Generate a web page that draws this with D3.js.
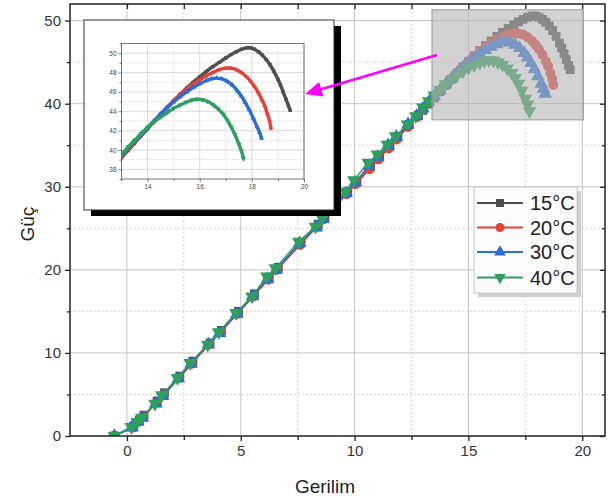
<!DOCTYPE html>
<html><head><meta charset="utf-8">
<script src="https://cdn.jsdelivr.net/npm/d3@7"></script>
<style>body{margin:0;background:#fff} svg{display:block;font-family:"Liberation Sans",Arial,sans-serif}</style>
</head><body><svg id="c" width="611" height="501"></svg>
<script>
// ---------- data ----------
const seriesNames = ["15°C", "20°C", "30°C", "40°C"];
const v15 = [-0.55, 0.3, 0.55, 0.75, 1.33, 1.65, 2.32, 2.9, 3.65, 4.15, 4.9, 5.6, 6.25, 6.65, 7.65, 8.4, 8.7, 9.7, 10.1, 10.7, 11.1, 11.55, 11.9, 12.4, 12.8,
  13.0, 13.25, 13.5, 13.75, 14.0, 14.25, 14.5, 14.75, 15.0, 15.25, 15.5, 15.75, 16.0, 16.25, 16.5, 16.75, 17.0, 17.2, 17.4, 17.6, 17.8, 17.95, 18.1, 18.25, 18.4, 18.55, 18.7, 18.85, 19.0, 19.1, 19.2, 19.3, 19.4, 19.47];
const p15 = [0, 1.2, 1.9, 2.5, 4.2, 5.2, 7.2, 9.0, 11.2, 12.7, 15.0, 17.1, 19.1, 20.3, 23.3, 25.5, 26.4, 29.4, 30.6, 32.4, 33.6, 34.9, 36.0, 37.5, 38.6,
  39.2, 39.95, 40.7, 41.45, 42.2, 42.95, 43.7, 44.4, 45.1, 45.75, 46.4, 47.0, 47.55, 48.1, 48.6, 49.05, 49.5, 49.85, 50.15, 50.4, 50.55, 50.55, 50.4, 50.15, 49.8, 49.35, 48.8, 48.1, 47.3, 46.7, 46.0, 45.3, 44.6, 44.1];
const v20 = [-0.55, 0.25, 0.5, 0.7, 1.3, 1.6, 2.3, 2.85, 3.6, 4.1, 4.85, 5.55, 6.2, 6.6, 7.6, 8.35, 8.65, 9.65, 10.05, 10.65, 11.05, 11.5, 11.85, 12.35, 12.75,
  13.0, 13.25, 13.5, 13.75, 14.0, 14.25, 14.5, 14.75, 15.0, 15.25, 15.5, 15.75, 16.0, 16.25, 16.5, 16.75, 17.0, 17.2, 17.4, 17.6, 17.8, 17.95, 18.1, 18.25, 18.4, 18.5, 18.6, 18.68, 18.73];
const p20 = [0, 1.0, 1.7, 2.3, 4.0, 4.9, 7.0, 8.7, 11.0, 12.5, 14.7, 16.8, 18.8, 20.0, 23.0, 25.2, 26.1, 29.1, 30.3, 32.1, 33.3, 34.6, 35.7, 37.2, 38.4,
  39.3, 40.05, 40.8, 41.55, 42.3, 43.0, 43.7, 44.4, 45.1, 45.7, 46.3, 46.8, 47.25, 47.65, 48.0, 48.3, 48.45, 48.45, 48.3, 48.0, 47.55, 47.1, 46.55, 45.9, 45.1, 44.5, 43.7, 43.0, 42.25];
const v30 = [-0.55, 0.22, 0.48, 0.68, 1.27, 1.57, 2.26, 2.82, 3.58, 4.07, 4.83, 5.52, 6.18, 6.56, 7.58, 8.32, 8.62, 9.63, 10.02, 10.62, 11.02, 11.47, 11.83, 12.35, 12.72,
  13.0, 13.25, 13.5, 13.75, 14.0, 14.25, 14.5, 14.75, 15.0, 15.25, 15.5, 15.75, 16.0, 16.25, 16.45, 16.65, 16.85, 17.05, 17.25, 17.45, 17.6, 17.75, 17.9, 18.05, 18.2, 18.3, 18.37];
const p30 = [0, 1.0, 1.7, 2.2, 3.9, 4.8, 6.9, 8.7, 11.0, 12.4, 14.7, 16.8, 18.9, 20.0, 23.2, 25.1, 26.1, 29.2, 30.5, 32.5, 33.6, 35.0, 36.0, 37.5, 38.5,
  39.4, 40.15, 40.9, 41.6, 42.3, 43.0, 43.7, 44.35, 44.95, 45.5, 46.0, 46.45, 46.85, 47.15, 47.35, 47.42, 47.35, 47.1, 46.7, 46.1, 45.55, 44.9, 44.15, 43.3, 42.4, 41.8, 41.2];
const v40 = [-0.55, 0.2, 0.45, 0.65, 1.23, 1.53, 2.22, 2.78, 3.55, 4.03, 4.79, 5.49, 6.15, 6.52, 7.55, 8.28, 8.58, 9.6, 9.97, 10.6, 11.0, 11.44, 11.8, 12.32, 12.69,
  13.0, 13.25, 13.5, 13.75, 14.0, 14.25, 14.5, 14.75, 15.0, 15.25, 15.5, 15.7, 15.9, 16.1, 16.3, 16.5, 16.7, 16.9, 17.05, 17.2, 17.35, 17.5, 17.6, 17.68];
const p40 = [0, 1.1, 1.7, 2.2, 3.9, 4.9, 7.0, 8.8, 11.0, 12.5, 14.8, 16.8, 19.2, 20.2, 23.4, 25.2, 26.2, 29.4, 30.8, 32.9, 33.9, 35.1, 36.1, 37.5, 38.5,
  39.55, 40.3, 41.0, 41.7, 42.35, 42.9, 43.4, 43.85, 44.3, 44.65, 44.95, 45.15, 45.25, 45.2, 45.0, 44.7, 44.25, 43.7, 43.1, 42.4, 41.6, 40.6, 39.9, 39.1];

const xMajorTicks = [0, 5, 10, 15, 20];
const xMinorTicks = [2.5, 7.5, 12.5, 17.5];
const yMajorTicks = [0, 10, 20, 30, 40, 50];
const yMinorTicks = [5, 15, 25, 35, 45];
const insetXTicks = [14, 16, 18, 20];
const insetXMinor = [13, 15, 17, 19];
const insetYTicks = [38, 40, 42, 44, 46, 48, 50];
const insetYMinor = [37, 39, 41, 43, 45, 47, 49, 51];
const zoomBox = {x0: 13.4, x1: 20.05, y0: 38.05, y1: 51.3};

const colors = ["#4f4f4f", "#e5403a", "#2a6dd8", "#2f9f5e"];
const symbols = [d3.symbolSquare, d3.symbolCircle, d3.symbolTriangle, d3.symbolTriangle];
const rotations = [0, 0, 0, 180];
const series = [[v15, p15], [v20, p20], [v30, p30], [v40, p40]].map(([v, p], i) => ({
  name: seriesNames[i], pts: v.map((d, j) => [d, p[j]]), color: colors[i], sym: symbols[i], rot: rotations[i]
}));

// ---------- main chart ----------
const svg = d3.select("#c");
const L = 70, R = 605, T = 4, B = 436;
const x = d3.scaleLinear([-2.5, 21], [L, R]);
const y = d3.scaleLinear([0, 52], [B, T]);

const defs = svg.append("defs");
defs.append("clipPath").attr("id", "mainClip").append("rect").attr("x", L).attr("y", T).attr("width", R - L).attr("height", B - T);

const grid = svg.append("g");
grid.selectAll(".vmin").data(xMinorTicks).join("line").attr("x1", d => x(d)).attr("x2", d => x(d)).attr("y1", T).attr("y2", B)
  .attr("stroke", "#d6d6d6").attr("stroke-dasharray", "2,2");
grid.selectAll(".hmin").data(yMinorTicks).join("line").attr("y1", d => y(d)).attr("y2", d => y(d)).attr("x1", L).attr("x2", R)
  .attr("stroke", "#d6d6d6").attr("stroke-dasharray", "2,2");
grid.selectAll(".vmaj").data(xMajorTicks).join("line").attr("x1", d => x(d)).attr("x2", d => x(d)).attr("y1", T).attr("y2", B)
  .attr("stroke", "#c4c4c4");
grid.selectAll(".hmaj").data(yMajorTicks.slice(1)).join("line").attr("y1", d => y(d)).attr("y2", d => y(d)).attr("x1", L).attr("x2", R)
  .attr("stroke", "#c4c4c4");

const plot = svg.append("g").attr("clip-path", "url(#mainClip)");
const line = d3.line().x(d => x(d[0])).y(d => y(d[1]));
series.forEach(s => {
  const g = plot.append("g");
  g.append("path").attr("d", line(s.pts)).attr("fill", "none").attr("stroke", s.color).attr("stroke-width", 1.5);
  g.selectAll("path.m").data(s.pts).join("path").attr("class", "m")
    .attr("d", d3.symbol(s.sym, s.sym === d3.symbolTriangle ? 80 : 78))
    .attr("transform", d => `translate(${x(d[0])},${y(d[1])}) rotate(${s.rot})`)
    .attr("fill", s.color);
});

// translucent zoom box
plot.append("rect").attr("x", x(zoomBox.x0)).attr("y", y(zoomBox.y1))
  .attr("width", x(zoomBox.x1) - x(zoomBox.x0)).attr("height", y(zoomBox.y0) - y(zoomBox.y1))
  .attr("fill", "#b3b3b3").attr("fill-opacity", 0.59).attr("stroke", "#9a9a9a").attr("stroke-width", 1);

// axes
const axG = svg.append("g");
function styleAxis(g) {
  g.select(".domain").remove();
  g.selectAll("line").attr("stroke", "#222").attr("stroke-width", 1.3);
  g.selectAll("text").attr("fill", "#333").attr("font-size", 15).attr("font-family", "Liberation Sans, Arial, sans-serif");
}
axG.append("g").attr("transform", `translate(0,${B})`).call(d3.axisBottom(x).tickValues(xMajorTicks).tickSize(5).tickPadding(4).tickFormat(d3.format("d"))).call(styleAxis);
axG.append("g").attr("transform", `translate(0,${B})`).call(d3.axisBottom(x).tickValues(xMinorTicks).tickSize(4).tickFormat("")).call(styleAxis);
axG.append("g").attr("transform", `translate(${L},0)`).call(d3.axisLeft(y).tickValues(yMajorTicks).tickSize(5).tickPadding(4).tickFormat(d3.format("d"))).call(styleAxis);
axG.append("g").attr("transform", `translate(${L},0)`).call(d3.axisLeft(y).tickValues(yMinorTicks).tickSize(3).tickFormat("")).call(styleAxis);
axG.append("g").attr("transform", `translate(0,${T})`).call(d3.axisTop(x).tickValues(xMajorTicks.concat(xMinorTicks)).tickSize(-5).tickFormat("")).call(styleAxis);
axG.append("g").attr("transform", `translate(${R},0)`).call(d3.axisRight(y).tickValues(yMajorTicks).tickSize(-5).tickFormat("")).call(styleAxis);
axG.append("g").attr("transform", `translate(${R},0)`).call(d3.axisRight(y).tickValues(yMinorTicks).tickSize(-3).tickFormat("")).call(styleAxis);
svg.append("rect").attr("x", L).attr("y", T).attr("width", R - L).attr("height", B - T).attr("fill", "none").attr("stroke", "#222").attr("stroke-width", 1.5);

svg.append("text").attr("x", x(8.7)).attr("y", 493).attr("text-anchor", "middle").attr("font-size", 19).attr("fill", "#222").text("Gerilim");
svg.append("text").attr("transform", `translate(34,${y(25.5)}) rotate(-90)`).attr("text-anchor", "middle").attr("font-size", 19).attr("fill", "#222").text("Güç");

// ---------- inset ----------
const FX0 = 84, FY0 = 20, FX1 = 334, FY1 = 210;
svg.append("rect").attr("x", FX0 + 7).attr("y", FY0 + 6).attr("width", FX1 - FX0).attr("height", FY1 - FY0).attr("fill", "#000");
svg.append("rect").attr("x", FX0).attr("y", FY0).attr("width", FX1 - FX0).attr("height", FY1 - FY0).attr("fill", "#fff").attr("stroke", "#333").attr("stroke-width", 1);

const IL = 121.5, IR = 304, IT = 43.5, IB = 179;
const ix = d3.scaleLinear([13, 20], [IL, IR]);
const iy = d3.scaleLinear([37, 51], [IB, IT]);
defs.append("clipPath").attr("id", "insetClip").append("rect").attr("x", IL).attr("y", IT).attr("width", IR - IL).attr("height", IB - IT);
const ig = svg.append("g");
ig.selectAll(".ivm").data(insetXMinor.filter(d => d > 13)).join("line").attr("x1", d => ix(d)).attr("x2", d => ix(d)).attr("y1", IT).attr("y2", IB).attr("stroke", "#e6e6e6").attr("stroke-width", 0.8);
ig.selectAll(".ihm").data(insetYMinor.filter(d => d > 37 && d < 51)).join("line").attr("y1", d => iy(d)).attr("y2", d => iy(d)).attr("x1", IL).attr("x2", IR).attr("stroke", "#e6e6e6").attr("stroke-width", 0.8);
ig.selectAll(".iv").data(insetXTicks).join("line").attr("x1", d => ix(d)).attr("x2", d => ix(d)).attr("y1", IT).attr("y2", IB).attr("stroke", "#d0d0d0").attr("stroke-width", 0.8);
ig.selectAll(".ih").data(insetYTicks).join("line").attr("y1", d => iy(d)).attr("y2", d => iy(d)).attr("x1", IL).attr("x2", IR).attr("stroke", "#d0d0d0").attr("stroke-width", 0.8);

const iplot = svg.append("g").attr("clip-path", "url(#insetClip)");
const iline = d3.line().x(d => ix(d[0])).y(d => iy(d[1])).curve(d3.curveCatmullRom);
series.forEach(s => {
  iplot.append("path").attr("d", iline(s.pts)).attr("fill", "none").attr("stroke", s.color).attr("stroke-width", 3.4);
  iplot.append("g").selectAll("path").data(s.pts).join("path")
    .attr("d", d3.symbol(s.sym, 12))
    .attr("transform", d => `translate(${ix(d[0])},${iy(d[1])}) rotate(${s.rot})`)
    .attr("fill", s.color);
});
function styleInset(g) {
  g.select(".domain").remove();
  g.selectAll("line").attr("stroke", "#555").attr("stroke-width", 0.8);
  g.selectAll("text").attr("fill", "#444").attr("font-size", 6.5).attr("font-family", "Liberation Sans, Arial, sans-serif");
}
const fmt = d3.format("d");
svg.append("g").attr("transform", `translate(0,${IB})`).call(d3.axisBottom(ix).tickValues(insetXTicks).tickSize(3).tickPadding(2).tickFormat(fmt)).call(styleInset);
svg.append("g").attr("transform", `translate(0,${IB})`).call(d3.axisBottom(ix).tickValues(insetXMinor).tickSize(2).tickFormat("")).call(styleInset);
svg.append("g").attr("transform", `translate(${IL},0)`).call(d3.axisLeft(iy).tickValues(insetYTicks).tickSize(3).tickPadding(2).tickFormat(fmt)).call(styleInset);
svg.append("g").attr("transform", `translate(${IL},0)`).call(d3.axisLeft(iy).tickValues(insetYMinor).tickSize(2).tickFormat("")).call(styleInset);
svg.append("rect").attr("x", IL).attr("y", IT).attr("width", IR - IL).attr("height", IB - IT).attr("fill", "none").attr("stroke", "#666").attr("stroke-width", 0.9);

// ---------- arrow ----------
const a0 = [437, 55], a1 = [305, 94];
const dx = a1[0] - a0[0], dy = a1[1] - a0[1], len = Math.hypot(dx, dy), ux = dx / len, uy = dy / len;
const hl = 17, hw = 7.5;
const bx = a1[0] - ux * hl, by = a1[1] - uy * hl;
svg.append("line").attr("x1", a0[0]).attr("y1", a0[1]).attr("x2", bx + ux * 2).attr("y2", by + uy * 2).attr("stroke", "#ff00ff").attr("stroke-width", 2.6);
svg.append("polygon").attr("points", [[a1[0], a1[1]], [bx - uy * hw, by + ux * hw], [bx + uy * hw, by - ux * hw]].map(p => p.join(",")).join(" ")).attr("fill", "#ff00ff");

// ---------- legend ----------
const LX = 474, LY = 187, LW = 103, LH = 106;
svg.append("rect").attr("x", LX + 4).attr("y", LY + 4).attr("width", LW).attr("height", LH).attr("fill", "#cfcfcf");
svg.append("rect").attr("x", LX).attr("y", LY).attr("width", LW).attr("height", LH).attr("fill", "#fbfbfb").attr("stroke", "#c8c8c8").attr("stroke-width", 1);
const rowY = [203, 227.5, 252, 277.5];
series.forEach((s, i) => {
  const g = svg.append("g").attr("transform", `translate(0,${rowY[i]})`);
  g.append("line").attr("x1", 477).attr("x2", 523).attr("y1", 0).attr("y2", 0).attr("stroke", s.color).attr("stroke-width", 1.8);
  g.append("path").attr("d", d3.symbol(s.sym, s.sym === d3.symbolTriangle ? 60 : 64)).attr("transform", `translate(500,0) rotate(${s.rot})`).attr("fill", s.color);
  g.append("text").attr("x", 530).attr("y", 7).attr("font-size", 20).attr("fill", "#222").text(s.name);
});
</script></body></html>
